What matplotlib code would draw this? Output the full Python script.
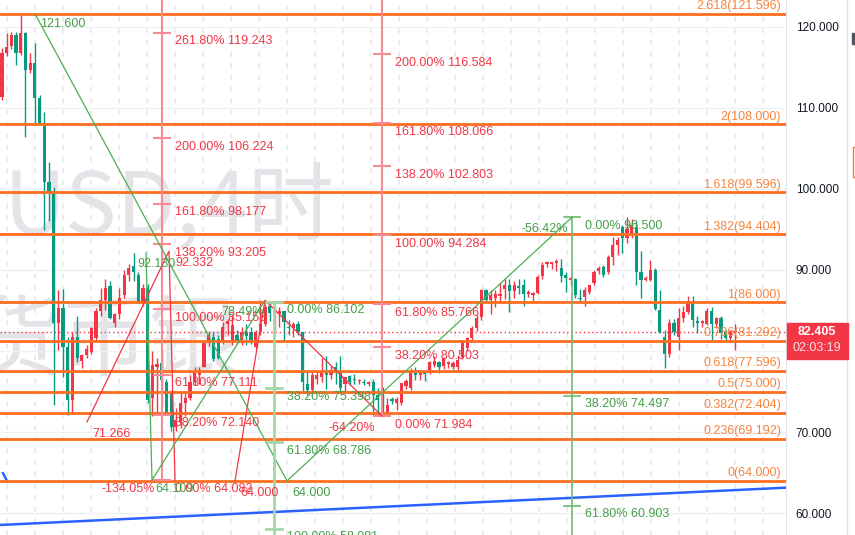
import matplotlib
matplotlib.use("Agg")
import matplotlib.pyplot as plt
from matplotlib.patches import Rectangle
import numpy as np

# ---------------- data ----------------
opens = [111.3,116.7,117.6,119.0,116.7,119.2,114.6,115.5,111.2,108.1,
         100.9,99.5,83.5,85.3,80.5,74.0,81.8,78.8,79.5,79.9,
         81.6,84.9,86.3,88.0,83.5,84.6,86.9,89.4,90.5,89.4,
         85.9,87.8,74.2,78.0,78.5,76.2,74.8,70.7,71.3,73.6,
         74.2,76.2,77.1,78.0,81.0,81.8,81.5,81.4,83.4,81.4,
         82.0,81.2,82.3,82.3,80.5,82.4,83.4,85.5,84.7,84.6,
         85.0,83.0,82.8,83.4,82.3,76.0,75.2,76.6,76.8,77.5,
         77.1,78.1,77.4,76.0,76.9,76.6,76.3,76.2,76.0,76.2,
         74.6,75.0,72.4,74.1,73.6,73.6,75.7,75.5,77.4,77.0,
         77.4,77.4,78.3,78.6,78.2,78.4,78.1,78.0,79.3,80.4,
         81.6,82.9,84.2,87.5,86.3,86.6,86.8,87.6,88.1,87.4,
         88.0,88.1,87.0,86.9,87.2,89.3,90.7,90.8,90.9,90.3,
         89.4,88.8,88.9,86.6,86.7,87.3,88.4,89.9,90.4,89.8,
         91.6,93.1,95.3,94.0,94.5,95.3,89.8,88.8,88.8,90.0,
         85.1,81.7,79.6,83.5,81.7,84.1,84.8,85.9,83.7,83.5,
         83.4,85.0,83.3,84.1,82.3,81.6,82.3]
highs = [117.4,119.2,119.3,119.3,121.6,119.3,116.7,118.0,111.6,109.5,
         103.3,100.2,87.5,87.7,81.8,82.4,84.3,79.6,80.8,83.0,
         85.3,87.8,88.9,88.7,84.7,87.8,90.0,90.8,92.1,89.8,
         88.3,88.3,80.0,79.2,80.0,76.5,75.2,73.0,75.0,75.0,
         77.0,78.0,78.0,81.0,82.3,82.4,82.0,83.6,84.0,84.5,
         82.6,83.0,83.3,83.0,82.6,86.3,85.8,86.1,85.5,85.4,
         85.0,83.8,83.6,83.7,82.4,77.5,77.4,77.4,79.2,79.4,
         78.2,78.6,79.4,76.7,77.1,77.2,76.6,76.5,76.3,76.6,
         75.4,75.6,74.2,74.4,74.4,76.1,76.5,77.9,78.0,77.7,
         77.6,78.8,79.4,78.8,79.3,78.8,78.8,79.5,81.2,81.8,
         83.1,84.4,87.7,87.6,87.5,87.5,88.4,88.9,88.9,88.6,
         88.9,88.9,87.5,87.3,89.4,91.0,91.1,91.0,91.3,91.4,
         89.7,89.2,89.0,87.7,87.9,88.2,90.0,90.5,90.6,91.8,
         94.1,94.1,95.5,96.5,96.3,96.0,92.4,89.3,91.2,90.2,
         87.5,82.6,83.9,83.9,85.3,85.6,86.8,86.8,84.3,83.8,
         85.3,85.4,84.2,84.3,82.6,82.6,83.3]
lows = [111.0,116.4,117.3,115.3,116.5,106.4,114.3,107.9,108.0,94.9,
        96.0,73.4,80.1,76.8,72.1,72.3,78.6,77.9,79.2,79.6,
        81.2,84.3,85.1,83.9,83.0,84.0,86.6,88.6,88.6,85.9,
        85.6,73.6,72.0,72.2,73.2,72.1,70.2,70.2,70.5,72.0,
        74.0,75.8,76.0,78.0,80.6,78.8,79.0,80.9,82.0,80.8,
        80.9,80.7,80.8,80.9,80.3,82.0,83.1,83.7,82.5,83.0,
        81.4,82.0,81.8,82.0,74.8,74.6,74.6,76.0,76.2,75.3,
        76.6,75.9,74.8,74.9,75.8,75.9,75.9,75.8,75.7,72.3,
        72.0,72.4,72.2,73.5,72.7,73.4,75.3,75.2,76.4,76.4,
        76.3,77.2,78.0,77.3,77.8,77.9,77.8,77.6,79.0,80.0,
        81.4,82.5,83.8,85.9,84.6,85.4,86.0,86.4,84.8,86.5,
        87.1,85.6,86.7,86.0,87.0,88.9,90.4,90.1,89.9,88.5,
        87.3,88.2,86.6,85.9,85.5,87.1,88.2,89.5,89.1,89.5,
        90.6,91.9,92.1,93.3,94.0,88.1,86.5,88.6,88.6,85.1,
        82.2,77.9,79.3,82.0,80.1,83.6,84.6,83.0,82.2,83.0,
        83.2,81.2,82.8,81.5,81.1,81.1,80.1]
closes = [116.8,117.5,119.0,116.7,119.2,114.6,115.5,111.2,108.1,100.9,
          99.5,83.5,85.3,80.5,74.0,81.8,79.1,79.5,80.2,82.9,
          84.9,86.3,87.8,84.1,84.6,86.5,89.4,90.2,89.8,86.1,
          87.8,74.0,78.3,78.4,76.4,72.4,70.7,71.5,73.6,74.2,
          76.2,77.4,77.7,81.0,82.0,79.0,79.1,83.0,83.7,83.2,
          81.2,82.4,81.9,81.4,82.4,83.4,85.4,84.7,85.1,85.0,
          83.6,82.8,83.3,82.3,76.2,75.2,77.0,77.0,77.5,77.0,
          77.7,77.3,75.4,76.8,76.2,76.4,76.4,76.1,76.1,74.6,
          74.0,72.4,73.4,73.8,74.1,76.1,76.3,77.7,77.0,77.3,
          77.2,78.6,78.8,78.0,79.1,78.7,78.5,78.9,81.0,81.6,
          82.9,84.1,87.5,86.3,86.9,87.1,87.0,88.2,87.4,88.1,
          87.8,87.1,87.3,87.2,89.1,90.6,91.0,90.9,91.0,89.2,
          89.0,89.0,86.9,86.4,87.5,88.1,89.8,90.3,89.4,91.6,
          93.1,93.7,94.0,95.0,95.5,89.8,88.8,89.0,90.0,85.2,
          82.3,79.6,83.5,82.4,84.1,84.8,85.9,83.8,83.5,83.6,
          85.0,83.4,84.1,82.2,81.6,82.3,82.405]
last_price = 82.405
countdown = "02:03:19"

axis_ticks = [60, 70, 80, 90, 100, 110, 120]

fib_ratios = ["2.618", "2", "1.618", "1.382", "1", "0.786", "0.618", "0.5", "0.382", "0.236", "0"]
fib_prices = [121.596, 108.000, 99.596, 94.404, 86.000, 81.292, 77.596, 75.000, 72.404, 69.192, 64.000]

red1_pcts = [261.80, 200.00, 161.80, 138.20, 100.00, 61.80, 38.20, 0.00]
red1_vals = [119.243, 106.224, 98.177, 93.205, 85.158, 77.111, 72.140, 64.082]
red2_pcts = [200.00, 161.80, 138.20, 100.00, 61.80, 38.20, 0.00]
red2_vals = [116.584, 108.066, 102.803, 94.284, 85.766, 80.503, 71.984]
grn1_pcts = [0.00, 38.20, 61.80]
grn1_vals = [96.500, 74.497, 60.903]
grn2_pcts = [0.00, 38.20, 61.80, 100.00]
grn2_vals = [86.102, 75.398, 68.786, 58.081]

# tool pivot prices (A, B, C)
grn1_piv = [121.600, 64.000, 96.500]
grn2_piv = [92.130, 64.109, 86.102]
red1_piv = [71.266, 92.332, 64.082]
red2_piv = [64.000, 86.284, 71.984]

# ---------------- layout helpers ----------------
W_PX, H_PX = 855, 535
PLOT_R = 786
n = len(closes)
X0, X1 = 2.0, 735.0
DX = (X1 - X0) / (n - 1)
PY0, PPU = 26.7, 8.11


def ix(px):
    return (px - X0) / DX


def pv(py):
    return 120 - (py - PY0) / PPU


def yp(v):
    return PY0 + (120 - v) * PPU


RED = "#f23645"
TEAL = "#089981"
ORANGE = "#ff6d1f"
GREEN = "#43a047"
PINK = "#f58c95"
FONT = "Liberation Sans"

fig = plt.figure(figsize=(8.55, 5.35), dpi=100)
fig.patch.set_facecolor("white")
ax = fig.add_axes([0, 0, PLOT_R / W_PX, 1])
ax.set_xlim(ix(0), ix(PLOT_R))
ax.set_ylim(pv(H_PX), pv(0))
ax.set_facecolor("white")

# watermark (inside the axes, beneath everything)
wm = dict(family=["Noto Sans CJK SC", "DejaVu Sans"], color="#e4e4e8", zorder=0.2,
          transform=fig.transFigure, clip_on=False)
ax.text(3 / W_PX, 1 - 235 / H_PX, "USD,4时", fontsize=62, va="baseline", ha="left", **wm)
ax.text(-28 / W_PX, 1 - 345 / H_PX, "货币银", fontsize=64, va="center", ha="left", **wm)

# grid
for v in axis_ticks:
    ax.axhline(v, color="#eef0f4", lw=1, zorder=0.5)
for k in range(29):
    ax.axvline(ix(7 + 28 * k), color="#e6e8ee", lw=1.2, ls=(0, (3, 4)), zorder=0.5)

# candles
o = np.array(opens); h = np.array(highs); l = np.array(lows); c = np.array(closes)
x = np.arange(n)
cols = np.where(c >= o, RED, TEAL)
ax.vlines(x, l, h, colors=cols, lw=1, zorder=3)
body = np.maximum(np.abs(c - o), 0.15)
ax.bar(x, body, bottom=np.minimum(o, c), width=0.68, color=cols, zorder=3, linewidth=0)

# blue trend line
ax.plot([ix(0), ix(PLOT_R)], [58.56, 63.16], color="#2962ff", lw=1.8, zorder=4)
ax.plot([ix(3), ix(7)], [64.95, 63.98], color="#2962ff", lw=1.8, zorder=4)

# orange horizontal fib levels
for r, v in zip(fib_ratios, fib_prices):
    ax.axhline(v, color=ORANGE, lw=2.0, zorder=4)
    ax.text(ix(781), pv(yp(v) - 7.5), f"{r}({v:.3f})", color="#f7843e",
            fontsize=9, family=FONT, ha="right", va="center", zorder=5)

# current price dotted line
ax.axhline(last_price, color=RED, lw=1, ls=(0, (1, 2)), zorder=4)


def tool_vertical(pxv, vals, pcts, color, lcolor, top_px, bot_px, lx, lw=1.5):
    ax.plot([ix(pxv), ix(pxv)], [pv(top_px), pv(bot_px)], color=color, lw=lw, zorder=4)
    for p, v in zip(pcts, vals):
        ax.plot([ix(pxv - 8), ix(pxv + 8)], [v, v], color=color, lw=lw, zorder=4)
        ax.text(ix(lx), pv(yp(v) + 8.5), f"{p:.2f}% {v:.3f}", color=lcolor,
                fontsize=9, family=FONT, ha="left", va="center", zorder=5)


# red tool 1
tool_vertical(162, red1_vals, red1_pcts, PINK, RED, -5, yp(red1_vals[-1]), 175)
ax.plot([ix(87), ix(169), ix(175)], red1_piv, color=RED, lw=0.9, zorder=4)
# red tool 2
tool_vertical(382, red2_vals, red2_pcts, PINK, RED, -5, yp(red2_vals[-1]), 395)
ax.plot([ix(235), ix(265), ix(382)], red2_piv, color=RED, lw=0.9, zorder=4)
# green tool 1
tool_vertical(572, grn1_vals, grn1_pcts, "#6dbb70", GREEN, yp(grn1_vals[0]), 540, 585, lw=1.2)
ax.plot([ix(35), ix(287), ix(572)], grn1_piv, color="#4caf50", lw=0.9, zorder=4)
# green tool 2
tool_vertical(274, grn2_vals, grn2_pcts, "#a5d6a7", GREEN, yp(grn2_vals[0]), 540, 287, lw=2)
ax.plot([ix(146), ix(152), ix(264)], grn2_piv, color="#4caf50", lw=0.9, zorder=4)

# pivot / ratio labels
lab = dict(fontsize=9, family=FONT, va="center", zorder=5)
ax.text(ix(40), pv(24), f"{grn1_piv[0]:.3f}", color=GREEN, ha="left", **lab)
ax.text(ix(292), pv(493), f"{grn1_piv[1]:.3f}", color=GREEN, ha="left", **lab)
ax.text(ix(568), pv(229), "-56.42%", color=GREEN, ha="right", **lab)
ax.text(ix(137), pv(264), f"{grn2_piv[0]:.3f}", color=GREEN, ha="left", **lab)
ax.text(ix(155), pv(489), f"{grn2_piv[1]:.3f}", color=GREEN, ha="left", **lab)
ax.text(ix(264), pv(312), "78.49%", color=GREEN, ha="right", **lab)
ax.text(ix(92), pv(434), f"{red1_piv[0]:.3f}", color=RED, ha="left", **lab)
ax.text(ix(175), pv(263), f"{red1_piv[1]:.3f}", color=RED, ha="left", **lab)
ax.text(ix(155), pv(489), "-134.05%", color=RED, ha="right", **lab)
ax.text(ix(240), pv(493), f"{red2_piv[0]:.3f}", color=RED, ha="left", **lab)
ax.text(ix(375), pv(428), "-64.20%", color=RED, ha="right", **lab)

# axes styling
ax.yaxis.tick_right()
ax.set_yticks(axis_ticks)
ax.set_yticklabels([f"{v:.3f}" for v in axis_ticks])
ax.tick_params(axis="y", length=0, pad=7, labelsize=8.5, labelcolor="#131722")
for lbl in ax.get_yticklabels():
    lbl.set_family(FONT)
ax.set_xticks([])
for s in ["top", "left", "bottom"]:
    ax.spines[s].set_visible(False)
ax.spines["right"].set_color("#e0e3eb")

# last price box
fig.patches.append(Rectangle((787 / W_PX, 1 - 359 / H_PX), 61 / W_PX, 36 / H_PX,
                             transform=fig.transFigure, color=RED, zorder=6))
fig.text(817 / W_PX, 1 - 332 / H_PX, f"{last_price:.3f}", color="white", fontsize=9,
         family=FONT, weight="bold", ha="center", va="center", zorder=7)
fig.text(817 / W_PX, 1 - 348 / H_PX, countdown, color="#ffe0e3", fontsize=9,
         family=FONT, ha="center", va="center", zorder=7)

# right edge strip
fig.add_artist(plt.Line2D([846.5 / W_PX] * 2, [0, 1], transform=fig.transFigure,
                          color="#e0e3eb", lw=1))
fig.patches.append(Rectangle((852 / W_PX, 1 - 44 / H_PX), 3 / W_PX, 11 / H_PX,
                             transform=fig.transFigure, color="#50535e"))
fig.patches.append(Rectangle((853 / W_PX, 1 - 177 / H_PX), 4 / W_PX, 30 / H_PX,
                             transform=fig.transFigure, fill=False, edgecolor="#f57c3a", lw=1))

fig.savefig("out.png", dpi=100)
